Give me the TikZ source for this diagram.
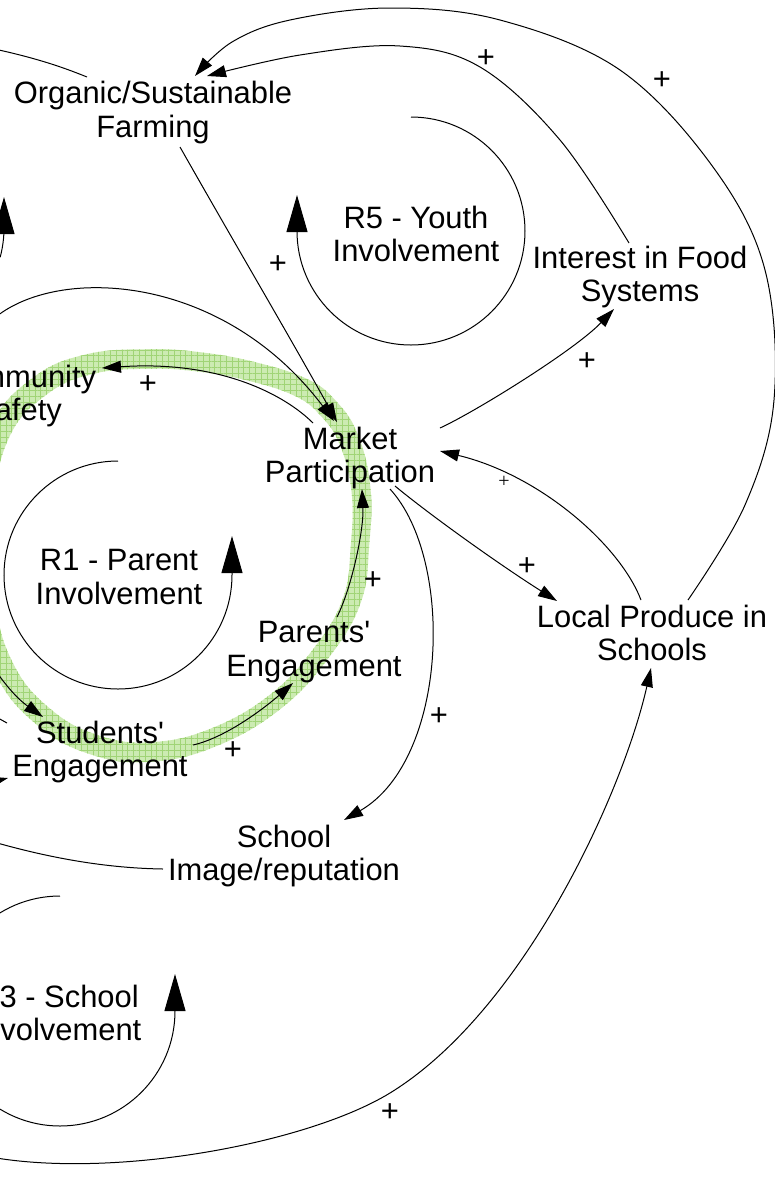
\documentclass[tikz,border=0pt]{standalone}
\usepackage{fontspec}
\newfontfamily\arialf{Liberation Sans}
\newfontfamily\timesf{Liberation Serif}
\usetikzlibrary{arrows.meta,calc,patterns.meta}
\definecolor{bandbase}{RGB}{204,235,178}
\definecolor{bandgrid}{RGB}{160,212,118}
\newcommand\vfnt{\arialf\fontsize{15.45}{16.75}\selectfont}
\newcommand\sfnt{\timesf\fontsize{10}{12}\selectfont}
\newcommand\bandpath[1]{{[scale around={#1:(175,555)}] plot[smooth cycle, tension=0.7] coordinates {(0,432) (40,386) (90,364) (150,359) (200,362) (250,371) (300,387) (328,408) (349,440) (361,490) (360,545) (352,600) (322,652) (275,702) (212,738) (150,752) (95,745) (45,718) (5,670) (-15,600) (-17,510)}}}
\begin{document}
\begin{tikzpicture}[x=0.5pt,y=-0.5pt,
  var/.style={font=\vfnt, align=center, inner sep=0pt},
  pl/.style={font=\vfnt, inner sep=0pt},
  spl/.style={font=\sfnt, inner sep=0pt},
  arr/.style={-{Triangle[length=9.5pt,width=6pt]}, line width=0.5pt},
  looparr/.style={-{Triangle[length=18.5pt,width=10.5pt]}, line width=0.5pt},
  link/.style={line width=0.5pt}]
\useasboundingbox (0,0) rectangle (775,1191);
\fill[white] (0,0) rectangle (775,1191);
\clip (0,0) rectangle (775,1191);
% highlighted loop band
\fill[bandbase, even odd rule] \bandpath{1.05} \bandpath{0.95};
\fill[pattern={Lines[angle=0,distance=2.9pt,line width=0.3pt]}, pattern color=bandgrid, even odd rule] \bandpath{1.05} \bandpath{0.95};
\fill[pattern={Lines[angle=90,distance=2.9pt,line width=0.3pt]}, pattern color=bandgrid, even odd rule] \bandpath{1.05} \bandpath{0.95};

% variables
\node[var] (org) at (153,112.5) {Organic/Sustainable\\Farming};
\node[var] (r5)  at (416,234) {R5 - Youth\\Involvement};
\node[var] (int) at (640,277) {Interest in Food\\Systems};
\node[var] (com) at (18,396) {Community\\Safety};
\node[var] (mkt) at (350,458) {Market\\Participation};
\node[var] (r1)  at (119,577) {R1 - Parent\\Involvement};
\node[var] (par) at (314,652) {Parents'\\Engagement};
\node[var] (loc) at (652,633) {Local Produce in\\Schools};
\node[var] (stu) at (100,752) {Students'\\Engagement};
\node[var] (sch) at (284,856) {School\\Image/reputation};
\node[var] (r3)  at (58,1013) {R3 - School\\Involvement};

% polarity labels
\node[pl] (p1) at (486,59) {+};
\node[pl] (p2) at (662,81) {+};
\node[pl] (p3) at (278,265) {+};
\node[pl] (p4) at (148,385) {+};
\node[pl] (p5) at (587,362) {+};
\node[spl] (p6) at (504,482) {+};
\node[pl] (p7) at (527,567) {+};
\node[pl] (p8) at (373,581) {+};
\node[pl] (p9) at (439,717) {+};
\node[pl] (p10) at (233,751) {+};
\node[pl] (p11) at (390,1113) {+};

% off-canvas ends
\coordinate (offA) at (-10,322);
\coordinate (offB) at (-60,560);
\coordinate (offC) at (-40,1150);
\coordinate (offD) at (-20,838);
\coordinate (offE) at (-20,46);
\coordinate (offF) at (-20,708);
\coordinate (offG) at (-40,790);
\coordinate (offH) at (-109,228);

% connector ends
\coordinate (c8s) at ($(int)+(-11,-34)$);
\coordinate (c8e) at ($(org)+(54,-36.5)$);
\coordinate (c9s) at ($(loc)+(36,-33)$);
\coordinate (c9e) at ($(org)+(42,-36.5)$);
\coordinate (bk) at (390,1093);

% connectors
\draw[arr] ($(org)+(27,34.5)$) .. controls +(55,97) and +(-50,-90) .. ($(mkt)+(-13,-36)$);
\draw[arr] (offA) .. controls (50,265) and (220,270) .. ($(mkt)+(-16,-37)$);
\draw[arr] ($(mkt)+(-37,-35)$) .. controls +(-28,-28) and +(118,-8) .. ($(com)+(84,-28)$);
\draw[arr] ($(par)+(23,-35)$) .. controls +(15,-30) and +(2,40) .. ($(mkt)+(12,31)$);
\draw[arr] ($(stu)+(93,-7)$) .. controls +(35,-8) and +(-25,22) .. ($(par)+(-21,31)$);
\draw[arr] (offB) .. controls (-30,640) and (5,690) .. ($(stu)+(-57,-35)$);
\draw[arr] ($(mkt)+(90,-30)$) .. controls +(35,-16) and +(-39,41) .. ($(int)+(-26,32)$);
\draw[arr] plot[smooth, tension=0.6] coordinates {(c8s) (560,140) (480,67) (400,46) (300,55) (c8e)};
\draw[arr] plot[smooth, tension=0.6] coordinates {(c9s) (745,505) (774,400) (765,270) (713,167) (620,70) (500,20) (390,8) (290,20) (232,42) (c9e)};
\draw[arr] ($(mkt)+(40,31)$) .. controls (455,560) and (448,760) .. ($(sch)+(60,-36)$);
\draw[arr] ($(mkt)+(45,28)$) .. controls +(35,29) and +(-57,-36) .. ($(loc)+(-95,-32)$);
\draw[arr] ($(loc)+(-11,-33)$) .. controls +(-21,-55) and +(100,24) .. ($(mkt)+(90,-7)$);
\draw[arr] (offC) .. controls (80,1185) and (300,1148) .. (bk) .. controls (525,1010) and (623.5,790.5) .. ($(loc)+(-1,35)$);
\draw[link] ($(sch)+(-121,13)$) .. controls (100,868) and (40,856) .. (offD);
\draw[link] ($(org)+(-66,-35.5)$) .. controls (60,66) and (30,56) .. (offE);
\draw[link] (offF) -- (7,723);
\draw[arr] (offG) -- ($(stu)+(-92,26)$);

% loop markers
\draw[looparr] ($(r1)+(-1,-116)$) arc[start angle=270, end angle=0, radius=114] -- ++(0,-39);
\draw[looparr] ($(r5)+(-5,-117)$) arc[start angle=270, end angle=540, radius=114] -- ++(0,-36);
\draw[looparr] ($(r3)+(2,-117)$) arc[start angle=270, end angle=0, radius=115] -- ++(0,-37);
\draw[looparr] (offH) ++(15:113) arc[start angle=15, end angle=0, radius=113] -- ++(0,-31);
\end{tikzpicture}
\end{document}
